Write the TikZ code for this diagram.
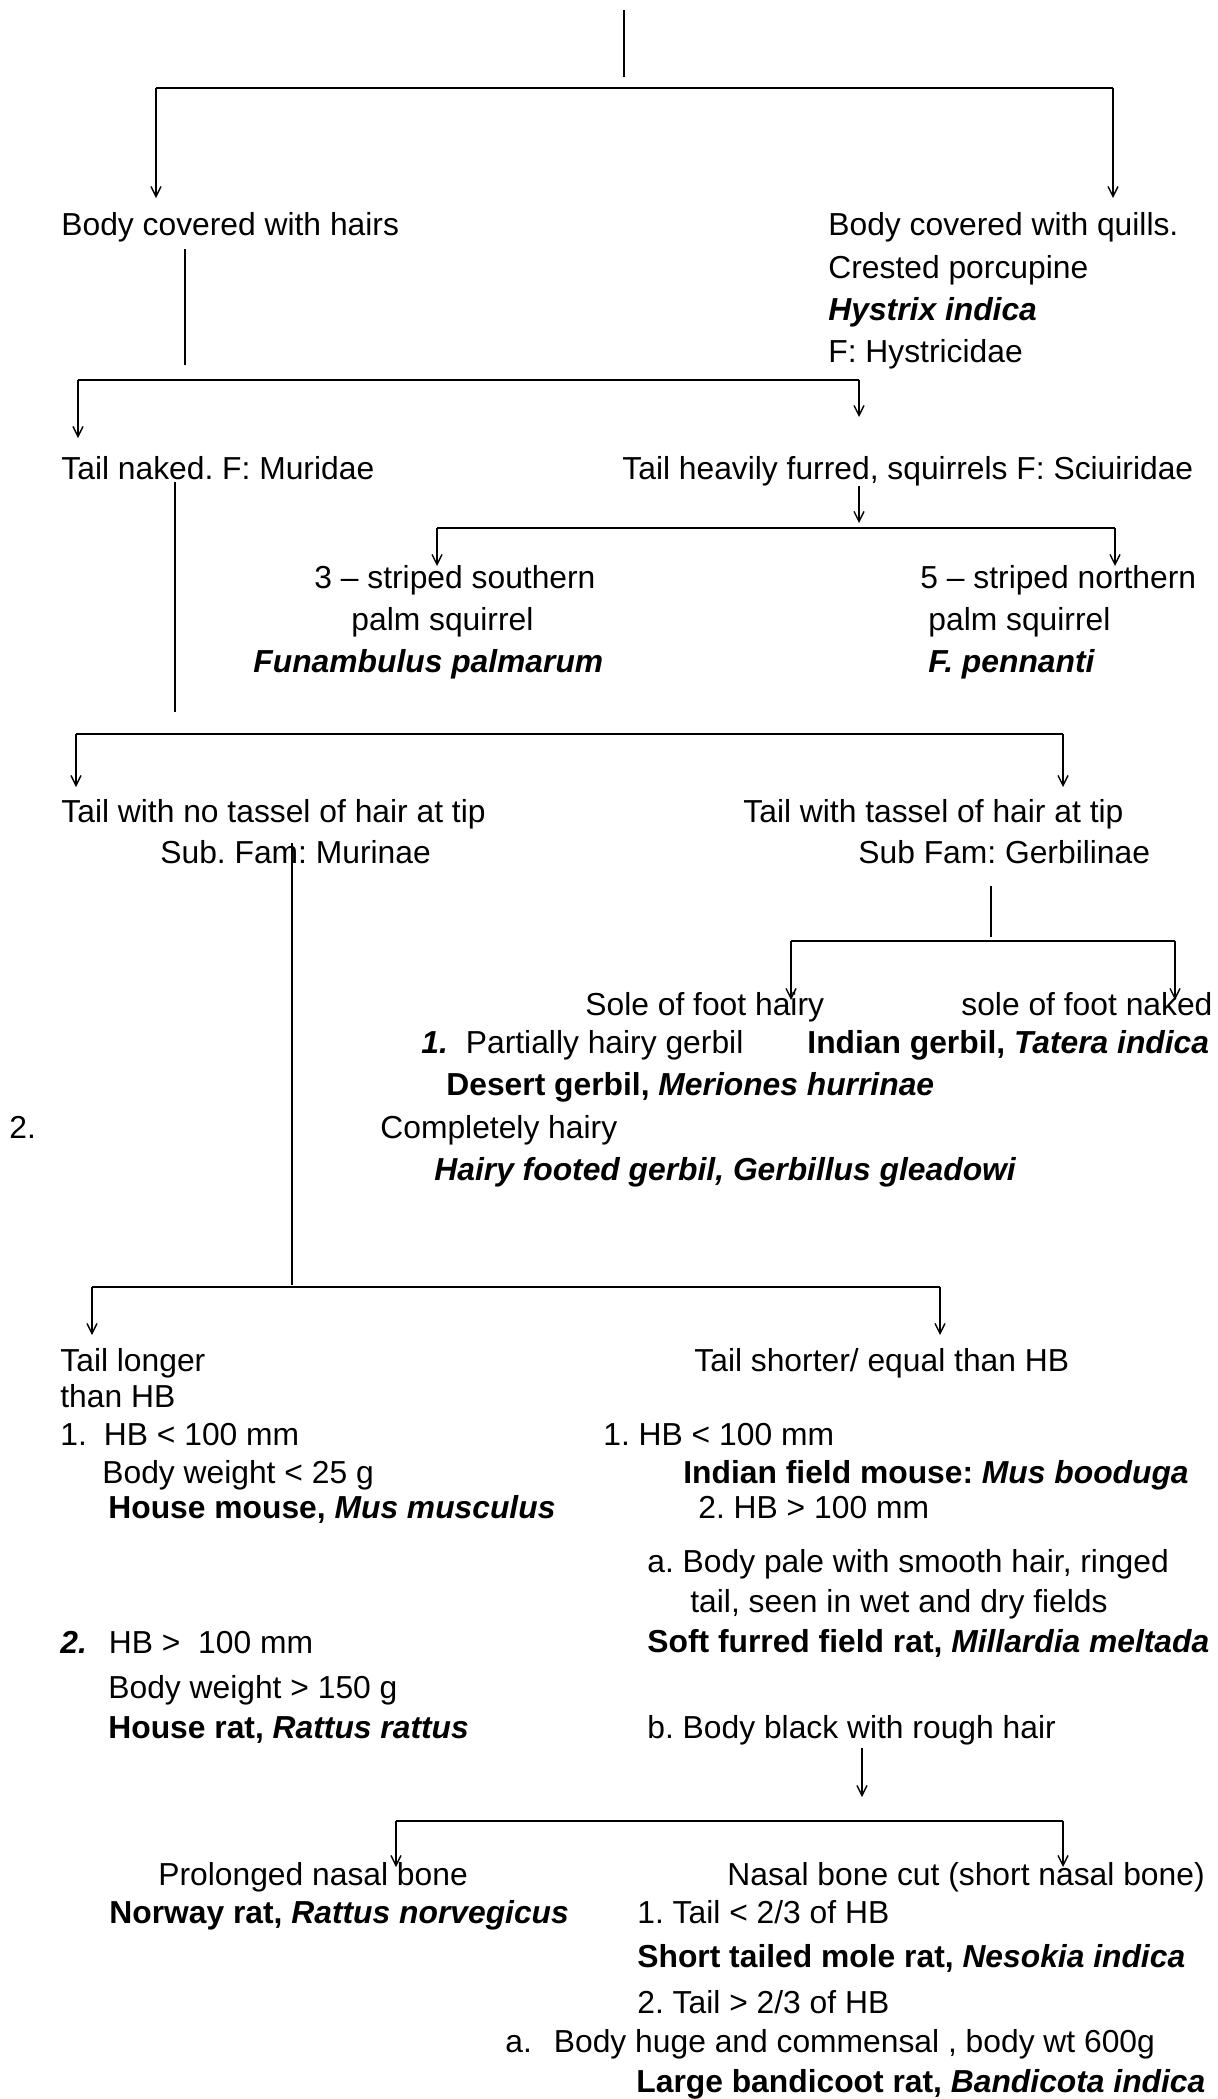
\documentclass[tikz,border=0pt]{standalone}
\usepackage{fontspec}
\setmainfont{Liberation Sans}
\usetikzlibrary{arrows.meta}
\newcommand{\espe}[1]{\textbf{\textit{#1}}}
\frenchspacing

\begin{document}
\begin{tikzpicture}[x = 0.5pt, y = -0.5pt,
txt/.style = {anchor = base west, inner sep = 0pt, font = \fontsize{15.9pt}{19pt}\selectfont},
linea/.style = {line width = 0.7pt},
barra/.style = {line width = 1.1pt},
flecha/.style = {line width = 0.7pt, -{Straight Barb[length = 5pt, width = 5pt]}}
]
\useasboundingbox (0,0) rectangle (1217,2099);

%barras: numero / x izq / x der / y barra / y punta izq / y punta der
\foreach \k/\xa/\xb/\ya/\yb/\yc in {1/156/1113/88/198/198, 2/78/859/380/438/417,
	3/437/1115/528/566/566, 4/76/1063/734/787/787, 5/791/1175/941/1000/1000,
	6/92/940/1287/1335/1335, 7/396/1063/1821/1867/1867}{
	\coordinate (bi\k) at (\xa,\ya);
	\coordinate (bd\k) at (\xb,\ya);
	\coordinate (fi\k) at (\xa,\yb);
	\coordinate (fd\k) at (\xb,\yc);
	\draw[barra] (bi\k) -- (bd\k);
	\draw[flecha] (bi\k) -- (fi\k);
	\draw[flecha] (bd\k) -- (fd\k);
}

%lineas sueltas (sin punta)
\foreach \k/\x/\ya/\yb in {1/624/10/77, 2/185/249/365, 3/175/482/712, 4/292/843/1285, 5/991/886/937}{
	\coordinate (la\k) at (\x,\ya);
	\coordinate (lb\k) at (\x,\yb);
	\draw[linea] (la\k) -- (lb\k);
}

%flechas sueltas
\coordinate (sa1) at (859,486);
\coordinate (sb1) at (859,523);
\coordinate (sa2) at (862,1748);
\coordinate (sb2) at (862,1797);
\draw[flecha] (sa1) -- (sb1);
\draw[flecha] (sa2) -- (sb2);

%primer nivel
\node[txt] (pelo) at (61,235) {Body covered with hairs};
\node[txt] (pua1) at (828,235) {Body covered with quills.};
\node[txt] (pua2) at (828,278) {Crested porcupine};
\node[txt] (pua3) at (828,320) {\espe{Hystrix indica}};
\node[txt] (pua4) at (828,362) {F: Hystricidae};

%Muridae / Sciuridae
\node[txt] (murid) at (61,479) {Tail naked. F: Muridae};
\node[txt] (sciur) at (622,479) {Tail heavily furred, squirrels F: Sciuiridae};
\node[txt] (tres1) at (314,588) {3 – striped southern};
\node[txt] (tres2) at (351,630) {palm squirrel};
\node[txt] (tres3) at (253,672) {\espe{Funambulus palmarum}};
\node[txt] (cinco1) at (920,588) {5 – striped northern};
\node[txt] (cinco2) at (928,630) {palm squirrel};
\node[txt] (cinco3) at (928,672) {\espe{F. pennanti}};

%subfamilias
\node[txt] (murin1) at (61,822) {Tail with no tassel of hair at tip};
\node[txt] (murin2) at (160,863) {Sub. Fam: Murinae};
\node[txt] (gerb1) at (743,822) {Tail with tassel of hair at tip};
\node[txt] (gerb2) at (858,863) {Sub Fam: Gerbilinae};

%Gerbilinae
\node[txt] (suela1) at (585,1015) {Sole of foot hairy};
\node[txt] (suela2) at (961,1015) {sole of foot naked};
\node[txt] (parc) at (421,1053) {\espe{1.}\hspace{9pt}Partially hairy gerbil};
\node[txt] (tater) at (807,1053) {\textbf{Indian gerbil, \textit{Tatera indica}}};
\node[txt] (merio) at (446,1095) {\textbf{Desert gerbil, \textit{Meriones hurrinae}}};
\node[txt] (dos) at (9,1138) {2.};
\node[txt] (compl) at (380,1138) {Completely hairy};
\node[txt] (gleado) at (434,1180) {\espe{Hairy footed gerbil, Gerbillus gleadowi}};

%Murinae: cola larga
\node[txt] (larga1) at (60,1371) {Tail longer};
\node[txt] (larga2) at (60,1407) {than HB};
\node[txt] (larga3) at (60,1445) {1.\hspace{8.5pt}HB < 100 mm};
\node[txt] (larga4) at (102,1483) {Body weight < 25 g};
\node[txt] (larga5) at (108,1518) {\textbf{House mouse, \textit{Mus musculus}}};
\node[txt] (larga6) at (60,1653) {\espe{2.}\hspace{11pt}HB > \ 100 mm};
\node[txt] (larga7) at (108,1698) {Body weight > 150 g};
\node[txt] (larga8) at (108,1738) {\textbf{House rat, \textit{Rattus rattus}}};

%Murinae: cola corta
\node[txt] (corta0) at (694,1371) {Tail shorter/ equal than HB};
\node[txt] (corta1) at (603,1445) {1. HB < 100 mm};
\node[txt] (corta2) at (683,1483) {\textbf{Indian field mouse: \textit{Mus booduga}}};
\node[txt] (corta3) at (698,1518) {2. HB > 100 mm};
\node[txt] (corta4) at (647,1572) {a. Body pale with smooth hair, ringed};
\node[txt] (corta5) at (690,1612) {tail, seen in wet and dry fields};
\node[txt] (corta6) at (647,1652) {\textbf{Soft furred field rat, \textit{Millardia meltada}}};
\node[txt] (corta7) at (647,1738) {b. Body black with rough hair};

%hueso nasal
\node[txt] (nasal1) at (158,1885) {Prolonged nasal bone};
\node[txt] (nasal2) at (109,1923) {\textbf{Norway rat, \textit{Rattus norvegicus}}};
\node[txt] (corto1) at (727,1885) {Nasal bone cut (short nasal bone)};
\node[txt] (corto2) at (637,1923) {1. Tail < 2/3 of HB};
\node[txt] (corto3) at (637,1967) {\textbf{Short tailed mole rat, \textit{Nesokia indica}}};
\node[txt] (corto4) at (637,2013) {2. Tail > 2/3 of HB};
\node[txt] (corto5) at (505,2052) {a.\hspace{11pt}Body huge and commensal , body wt 600g};
\node[txt] (corto6) at (636,2092) {\textbf{Large bandicoot rat, \textit{Bandicota indica}}};
\end{tikzpicture}
\end{document}
